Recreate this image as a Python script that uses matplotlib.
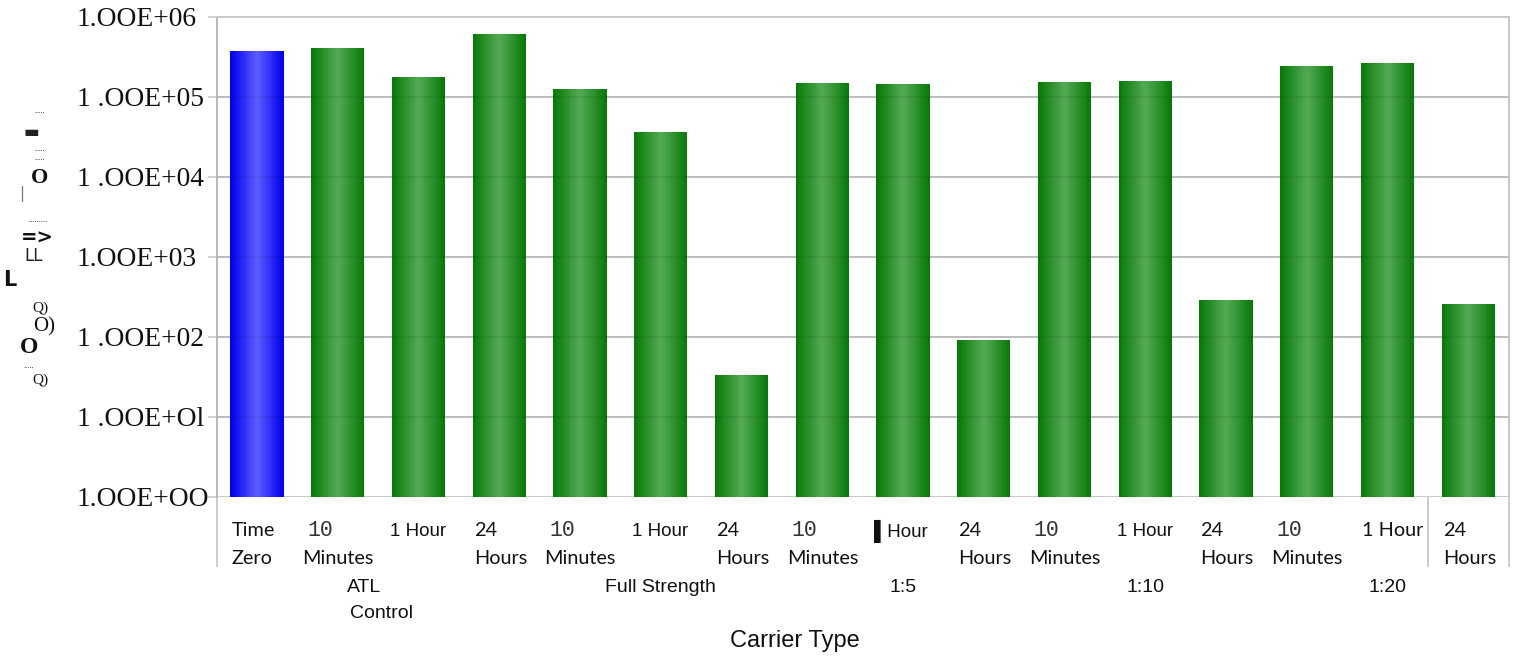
import numpy as np
import matplotlib
matplotlib.use("Agg")
import matplotlib.pyplot as plt
import matplotlib.transforms as mtransforms
from matplotlib.colors import to_rgb

# ---------------- data ----------------
tick_line1 = ["Time", "10", "1 Hour", "24", "10", "1 Hour", "24", "10", "\u258CHour",
              "24", "10", "1 Hour", "24", "10", "1 Hour", "24"]
tick_line2 = ["Zero", "Minutes", "", "Hours", "Minutes", "", "Hours", "Minutes", "",
              "Hours", "Minutes", "", "Hours", "Minutes", "", "Hours"]
values = [3.76e5, 4.03e5, 1.76e5, 6.13e5, 1.25e5, 3.59e4, 32.3, 1.50e5, 1.45e5,
          89, 1.51e5, 1.57e5, 288, 2.39e5, 2.66e5, 258]
groups = ["ATL", "Full Strength", "1:5", "1:10", "1:20"]
group_sub = ["Control", "", "", "", ""]
ytick_values = [1e0, 1e1, 1e2, 1e3, 1e4, 1e5, 1e6]
ytick_labels = ["1.OOE+OO", "1 .OOE+Ol", "1 .OOE+02", "1.OOE+03", "1 .OOE+04",
                "1 .OOE+05", "1.OOE+06"]
xlabel = "Carrier Type"

# ---------------- figure / layout ----------------
W, H = 1517, 662
fig = plt.figure(figsize=(W / 100, H / 100), dpi=100)
fig.patch.set_facecolor("white")
L, R, T, B = 216.7, 1508.7, 16.7, 496.7
ax = fig.add_axes([L / W, 1 - B / H, (R - L) / W, (B - T) / H])

n = len(values)
x = np.arange(n)
ax.set_yscale("log")
ax.set_ylim(1, 1e6)
ax.set_xlim(-0.5, n - 0.5)

grid_c = "#c8c8c8"
for v in ytick_values:
    ax.axhline(v, color=grid_c, lw=1.4, zorder=0)

# gradient bars (layered)
bw = 0.66
green_edge, green_mid = to_rgb("#077a07"), to_rgb("#52a852")
blue_edge, blue_mid = to_rgb("#0000ee"), to_rgb("#5a5aff")
nl = 14
for i, v in enumerate(values):
    e, m = (blue_edge, blue_mid) if i == 0 else (green_edge, green_mid)
    for k in range(nl):
        f = k / (nl - 1)
        wk = bw * (1 - 0.92 * f)
        c = tuple(np.array(e) * (1 - f) + np.array(m) * f)
        ax.bar(x[i], v, width=wk, bottom=1, color=c, lw=0, zorder=2)

# faint gridline trace over bars
for v in ytick_values[1:-1]:
    ax.axhline(v, color="black", alpha=0.07, lw=1.2, zorder=3)

# spines
for s in ["top", "right", "left"]:
    ax.spines[s].set_color(grid_c)
    ax.spines[s].set_linewidth(1.4)
ax.spines["left"].set_color("#b8b8b8")
ax.spines["bottom"].set_visible(False)

ax.set_xticks([])
ax.minorticks_off()
ax.set_yticks(ytick_values)
ax.set_yticklabels(ytick_labels, fontfamily="Liberation Serif", fontsize=19.8,
                   ha="left", color="#111111")
ax.tick_params(axis="y", length=6.5, width=1.2, color=grid_c,
               pad=(L - 77 - 9) * 0.72)
ax.yaxis.set_minor_locator(matplotlib.ticker.NullLocator())

# separators below the plot
sep_t = mtransforms.blended_transform_factory(ax.transData, fig.transFigure)
for xs in [-0.5, n - 1.5, n - 0.5]:
    ax.plot([xs, xs], [1 - B / H, 1 - 566 / H], transform=sep_t, color=grid_c,
            lw=1.3, clip_on=False)

# category tick labels
def off(dx_px):
    return mtransforms.offset_copy(sep_t, fig=fig, x=dx_px, y=0, units="dots")

y1, y2 = 1 - 531 / H, 1 - 559 / H
for i in range(n):
    left = x[i] - bw / 2
    t1, t2 = tick_line1[i], tick_line2[i]
    if t1 == "10":
        ax.text(left, y1, t1, transform=off(-4), ha="left", va="center",
                fontfamily="Liberation Mono", fontsize=15.5, color="#333333")
    elif t1.endswith("Hour") and i != 14:
        ax.text(left, y1, t1, transform=off(-2), ha="left", va="center",
                fontfamily=["Liberation Sans", "DejaVu Sans"], fontsize=13.5,
                color="#111111")
    else:
        ax.text(left, y1, t1, transform=off(1), ha="left", va="center",
                fontfamily="Lato", fontsize=14.3, color="#111111")
    if t2:
        dx = -9 if t2 == "Minutes" else 1
        ax.text(left, y2, t2, transform=off(dx), ha="left", va="center",
                fontfamily="Lato", fontsize=14.3, color="#111111")

# group labels
group_pos = [1.32, 5, 8, 11, 14]
for g, sub, gp in zip(groups, group_sub, group_pos):
    ax.text(gp, 1 - 587 / H, g, transform=sep_t, ha="center", va="center",
            fontfamily="Liberation Sans", fontsize=14, color="#111111")
    if sub:
        ax.text(gp + 0.22, 1 - 613 / H, sub, transform=sep_t, ha="center",
                va="center", fontfamily="Liberation Sans", fontsize=14,
                color="#111111")

fig.text(795 / W, 1 - 641 / H, xlabel, ha="center", va="center",
         fontfamily="Liberation Sans", fontsize=17, color="#111111")

# garbled (OCR) y-axis label fragments
ylab_bits = [
    (40, 111, ".....", "Liberation Serif", 6, "normal", "#333333"),
    (31, 132, "\u25AC", "DejaVu Sans", 12, "normal", "#222222"),
    (40, 149, ".....", "Liberation Serif", 6, "normal", "#333333"),
    (40, 158, ".....", "Liberation Serif", 6, "normal", "#333333"),
    (40, 178, "O", "Liberation Serif", 16, "bold", "#111111"),
    (22, 194, "|", "DejaVu Sans", 11, "normal", "#777777"),
    (38, 220, ".........", "Liberation Serif", 6, "normal", "#333333"),
    (37, 238, "=>", "DejaVu Sans", 14, "bold", "#111111"),
    (34, 256, "LL", "DejaVu Sans", 12, "normal", "#222222"),
    (10, 280, "L", "DejaVu Sans", 15, "bold", "#111111"),
    (40, 308, "Q)", "Liberation Serif", 11, "normal", "#111111"),
    (44, 327, "O)", "Liberation Serif", 15, "normal", "#111111"),
    (29, 348, "O", "Liberation Serif", 17, "bold", "#111111"),
    (29, 366, ".....", "Liberation Serif", 6, "normal", "#333333"),
    (40, 380, "Q)", "Liberation Serif", 11, "normal", "#111111"),
]
for px, py, s, fam, fs, fw, col in ylab_bits:
    fig.text(px / W, 1 - py / H, s, ha="center", va="center", fontfamily=fam,
             fontsize=fs, fontweight=fw, color=col)

fig.savefig("out.png", dpi=100, facecolor="white")
